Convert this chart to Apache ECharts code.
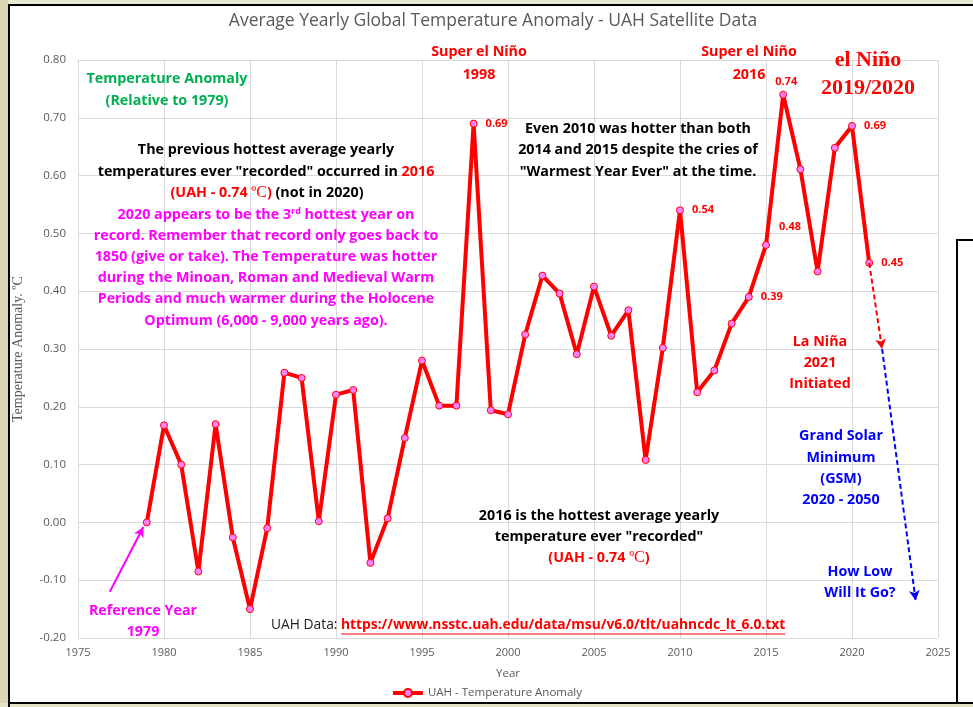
<!DOCTYPE html>
<html>
<head>
<meta charset="utf-8">
<script src="https://cdn.jsdelivr.net/npm/echarts@6/dist/echarts.min.js"></script>
<style>html,body{margin:0;padding:0;background:#fff}#c{width:973px;height:707px}</style>
</head>
<body>
<div id="c"></div>
<script>
// ---- data ----
const years = [1979,1980,1981,1982,1983,1984,1985,1986,1987,1988,1989,1990,1991,1992,1993,1994,1995,1996,1997,1998,1999,2000,2001,2002,2003,2004,2005,2006,2007,2008,2009,2010,2011,2012,2013,2014,2015,2016,2017,2018,2019,2020,2021];
const anomaly = [0.00,0.168,0.10,-0.085,0.170,-0.026,-0.150,-0.010,0.259,0.250,0.002,0.221,0.229,-0.070,0.007,0.146,0.280,0.202,0.202,0.69,0.194,0.187,0.325,0.427,0.396,0.291,0.408,0.323,0.367,0.108,0.302,0.54,0.225,0.263,0.344,0.39,0.48,0.74,0.611,0.434,0.648,0.686,0.449];
const labeledYears = [1998,2010,2014,2015,2016,2020,2021];
const xTicks = [1975,1980,1985,1990,1995,2000,2005,2010,2015,2020,2025];
const yTicks = [-0.20,-0.10,0.00,0.10,0.20,0.30,0.40,0.50,0.60,0.70,0.80];
// annotation arrows in data space: [from, to]
const laNinaArrow = [[2021,0.449],[2021.75,0.30]];
const gsmArrow = [[2021.75,0.30],[2023.7,-0.135]];
const refArrow = [[1976.85,-0.12],[1978.8,-0.008]];
const linkText = 'https://www.nsstc.uah.edu/data/msu/v6.0/tlt/uahncdc_lt_6.0.txt';

const F = '"Open Sans", Lato, sans-serif';
const SERIF = '"Liberation Serif", "DejaVu Serif", serif';
const FS = 14.3;
const LFS = 13.8;
const DY = 1.5;

const seriesData = years.map((y,i) => {
  const item = {value:[y, anomaly[i]]};
  if (labeledYears.includes(y)) {
    const lab = {show:true, formatter: p => p.value[1].toFixed(2)};
    if (y === 2016) { lab.position = 'top'; lab.distance = 3; lab.offset = [3,0]; }
    else if (y === 2015) { lab.position = 'right'; lab.offset = [4,-18]; }
    else { lab.position = 'right'; lab.distance = 8; }
    item.label = lab;
  }
  return item;
});

function txt(x, y, text, fill, opts) {
  opts = opts || {};
  return {type:'text', x:x, y:y + DY, silent:true, z:50,
    style:{text:text, fill:fill, align:opts.align||'center', verticalAlign:'middle',
      font:(opts.weight||'bold')+' '+(opts.size||FS)+'px '+(opts.family||F)}};
}
function rich(x, y, text, richDef, opts) {
  opts = opts || {};
  return {type:'text', x:x, y:y + DY, silent:true, z:50,
    style:{text:text, align:opts.align||'center', verticalAlign:'middle', rich:richDef}};
}
const B = {fontFamily:F, fontWeight:'bold', fontSize:FS};
const R = {
  k: Object.assign({}, B, {fill:'#000'}),
  r: Object.assign({}, B, {fill:'#ff0000'}),
  rs: {fontFamily:SERIF, fontWeight:'normal', fontSize:16, fill:'#ff0000'},
  m: Object.assign({}, B, {fill:'#ff00ff'}),
  sup: {fontFamily:F, fontWeight:'bold', fontSize:9, fill:'#ff00ff', padding:[0,0,7,0]},
  g: {fontFamily:F, fontWeight:'normal', fontSize:LFS, fill:'#222'},
  u: {fontFamily:F, fontWeight:'bold', fontSize:LFS, fill:'#ff0000'}
};

// measure link for underline
const mctx = document.createElement('canvas').getContext('2d');
mctx.font = 'normal ' + LFS + 'px ' + F; const wPre = mctx.measureText('UAH Data: ').width;
mctx.font = 'bold ' + LFS + 'px ' + F; const wLink = mctx.measureText(linkText).width;
const linkX = 271;

const graphics = [
  {type:'rect', shape:{x:0,y:0,width:973,height:5}, style:{fill:'#e9e8d2'}, z:-10, silent:true},
  {type:'rect', shape:{x:0,y:0,width:8,height:707}, style:{fill:'#d9d6b6'}, z:-10, silent:true},
  {type:'rect', shape:{x:0,y:703,width:973,height:4}, style:{fill:'#e3e1c6'}, z:-10, silent:true},
  {type:'polyline', shape:{points:[[9,707],[9,5],[973,5]]}, style:{stroke:'#000',lineWidth:2,fill:null}, silent:true},
  {type:'line', shape:{x1:8,y1:703,x2:973,y2:703}, style:{stroke:'#000',lineWidth:2}, silent:true},
  {type:'polyline', shape:{points:[[973,240],[957,240],[957,703]]}, style:{stroke:'#000',lineWidth:2,fill:null}, silent:true},
  txt(493, 20, 'Average Yearly Global Temperature Anomaly - UAH Satellite Data', '#595959', {weight:'normal', size:17.5}),
  txt(479, 50, 'Super el Niño', '#ff0000'),
  txt(479, 73, '1998', '#ff0000'),
  txt(749, 50, 'Super el Niño', '#ff0000'),
  txt(749, 73, '2016', '#ff0000'),
  txt(868, 59, 'el Niño', '#ff0000', {family:SERIF, size:22}),
  txt(868, 87, '2019/2020', '#ff0000', {family:SERIF, size:22}),
  txt(167, 77, 'Temperature Anomaly', '#00b050'),
  txt(167, 99, '(Relative to 1979)', '#00b050'),
  txt(266, 148, 'The previous hottest average yearly', '#000'),
  rich(266, 170, '{k|temperatures ever "recorded" occurred in }{r|2016}', R),
  rich(267, 191, '{r|(UAH - 0.74 }{rs|ºC}{r|)}{k| (not in 2020)}', R),
  rich(266, 213, '{m|2020 appears to be the 3}{sup|rd}{m| hottest year on}', R),
  txt(266, 234, 'record. Remember that record only goes back to', '#ff00ff'),
  txt(266, 255, '1850 (give or take). The Temperature was hotter', '#ff00ff'),
  txt(266, 276, 'during the Minoan, Roman and Medieval Warm', '#ff00ff'),
  txt(266, 297, 'Periods and much warmer during the Holocene', '#ff00ff'),
  txt(266, 319, 'Optimum (6,000 - 9,000 years ago).', '#ff00ff'),
  txt(638, 127, 'Even 2010 was hotter than both', '#000'),
  txt(638, 148, '2014 and 2015 despite the cries of', '#000'),
  txt(638, 170, '"Warmest Year Ever" at the time.', '#000'),
  txt(820, 340, 'La Niña', '#ff0000'),
  txt(820, 361, '2021', '#ff0000'),
  txt(820, 382, 'Initiated', '#ff0000'),
  txt(841, 434, 'Grand Solar', '#0000ff'),
  txt(841, 456, 'Minimum', '#0000ff'),
  txt(841, 477, '(GSM)', '#0000ff'),
  txt(841, 498, '2020 - 2050', '#0000ff'),
  txt(860, 570, 'How Low', '#0000ff'),
  txt(860, 591, 'Will It Go?', '#0000ff'),
  txt(599, 514, '2016 is the hottest average yearly', '#000'),
  txt(599, 535, 'temperature ever "recorded"', '#000'),
  rich(599, 556, '{r|(UAH - 0.74 }{rs|ºC}{r|)}', R),
  txt(143, 609, 'Reference Year', '#ff00ff'),
  txt(143, 630, '1979', '#ff00ff'),
  rich(linkX, 624, '{g|UAH Data: }{u|' + linkText + '}', R, {align:'left'}),
  {type:'line', shape:{x1:linkX+wPre, y1:632.5+DY, x2:linkX+wPre+wLink, y2:632.5+DY}, style:{stroke:'#ff0000', lineWidth:1}, z:50, silent:true}
];

const chart = echarts.init(document.getElementById('c'), null, {renderer:'canvas'});
chart.setOption({
  backgroundColor:'#ffffff',
  animation:false,
  textStyle:{fontFamily:F},
  grid:{left:78, right:35, top:60, bottom:69, containLabel:false},
  xAxis:{type:'value', min:xTicks[0], max:xTicks[xTicks.length-1], interval:5,
    name:'Year', nameLocation:'middle', nameGap:30,
    nameTextStyle:{color:'#595959', fontSize:11.5, fontFamily:F},
    axisLine:{show:true, lineStyle:{color:'#d9d9d9'}}, axisTick:{show:false},
    axisLabel:{color:'#595959', fontSize:11, margin:9, formatter:v=>String(v)},
    splitLine:{show:true, lineStyle:{color:'#d9d9d9', width:1}}},
  yAxis:{type:'value', min:yTicks[0], max:yTicks[yTicks.length-1], interval:0.1,
    name:'Temperature Anomaly. ºC', nameLocation:'middle', nameGap:53,
    nameTextStyle:{color:'#595959', fontSize:14, fontFamily:SERIF},
    axisLine:{show:true, lineStyle:{color:'#d9d9d9'}}, axisTick:{show:false},
    axisLabel:{color:'#595959', fontSize:11.5, margin:12, formatter:v=>v.toFixed(2)},
    splitLine:{show:true, lineStyle:{color:'#d9d9d9', width:1}}},
  legend:{bottom:3, left:'center', itemWidth:30, itemHeight:10, itemGap:3,
    lineStyle:{width:4},
    textStyle:{color:'#595959', fontSize:11.5, fontFamily:F},
    data:['UAH - Temperature Anomaly']},
  graphic:graphics,
  series:[{
    name:'UAH - Temperature Anomaly', type:'line', data:seriesData,
    symbol:'circle', symbolSize:7, showAllSymbol:true,
    lineStyle:{color:'#ff0000', width:4},
    itemStyle:{color:'#ff80ff', borderColor:'#ff0000', borderWidth:1},
    label:{show:false, color:'#ff0000', fontWeight:'bold', fontSize:11, fontFamily:F},
    emphasis:{disabled:true},
    markLine:{silent:true, symbol:['none','arrow'], symbolSize:[8,10], label:{show:false},
      data:[
        [{coord:laNinaArrow[0], lineStyle:{color:'#ff0000', type:[5,3], width:2}}, {coord:laNinaArrow[1]}],
        [{coord:gsmArrow[0], lineStyle:{color:'#0000ff', type:[5,3], width:2}}, {coord:gsmArrow[1]}],
        [{coord:refArrow[0], lineStyle:{color:'#ff00ff', type:'solid', width:2}}, {coord:refArrow[1]}]
      ]}
  }]
});
</script>
</body>
</html>
